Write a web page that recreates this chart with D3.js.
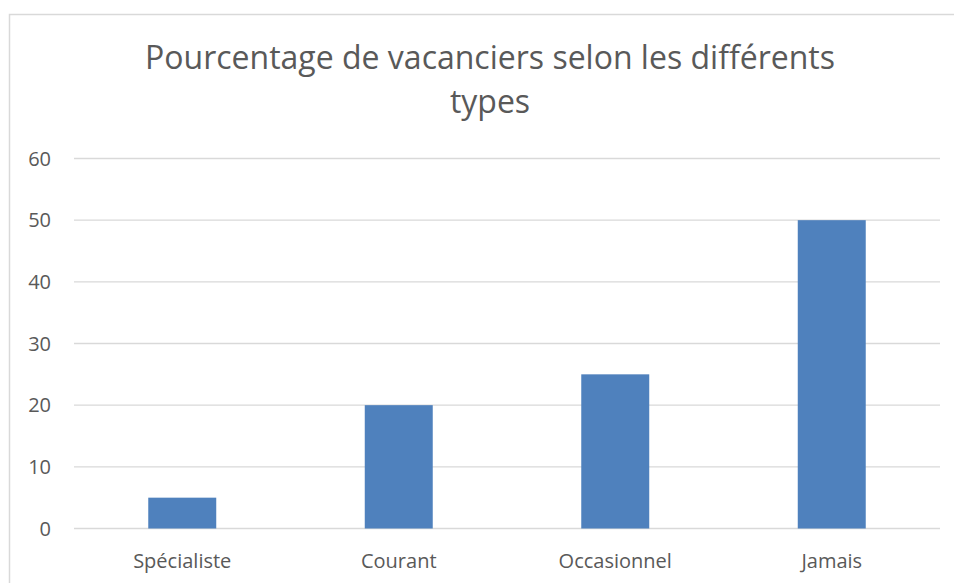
<!DOCTYPE html>
<html>
<head>
<meta charset="utf-8">
<script src="https://cdn.jsdelivr.net/npm/d3@7"></script>
<style>
  body { margin: 0; background: #fff; }
  text { font-family: 'Open Sans', sans-serif; fill: #595959; }
</style>
</head>
<body>
<div id="chart"></div>
<script>
// Data
const categories = ['Spécialiste', 'Courant', 'Occasionnel', 'Jamais'];
const values = [5, 20, 25, 50];
const yTicks = [0, 10, 20, 30, 40, 50, 60];
const titleLines = ['Pourcentage de vacanciers selon les différents', 'types'];

const svgW = 954;
const svgH = 583;
const margin = { top: 158.5, right: 14, bottom: 54.5, left: 74 };

const svg = d3.select('#chart').append('svg')
  .attr('width', svgW)
  .attr('height', svgH);

// Frame
svg.append('rect')
  .attr('x', 9.5)
  .attr('y', 14.5)
  .attr('width', svgW + 10)
  .attr('height', svgH + 10)
  .attr('fill', 'none')
  .attr('stroke', '#d9d9d9')
  .attr('stroke-width', 1.5);

const x = d3.scaleBand()
  .domain(categories)
  .range([margin.left, svgW - margin.right])
  .paddingInner(0.686)
  .paddingOuter(0.343);

const y = d3.scaleLinear()
  .domain([0, 60])
  .range([svgH - margin.bottom, margin.top]);

// Gridlines
const gG = svg.append('g').attr('class', 'grid');
yTicks.forEach((t) => {
  gG.append('line')
    .attr('x1', margin.left)
    .attr('x2', svgW - margin.right)
    .attr('y1', y(t))
    .attr('y2', y(t))
    .attr('stroke', '#d9d9d9')
    .attr('stroke-width', 1.3);
});

// Y labels
const gY = svg.append('g').attr('class', 'y-labels');
yTicks.forEach((t) => {
  gY.append('text')
    .attr('x', 51)
    .attr('y', y(t))
    .attr('dy', '0.36em')
    .attr('text-anchor', 'end')
    .style('font-size', '20px')
    .text(t);
});

// Bars
svg.append('g').attr('class', 'bars')
  .selectAll('rect')
  .data(categories)
  .join('rect')
  .attr('x', (d) => x(d))
  .attr('width', x.bandwidth())
  .attr('y', (d, i) => y(values[i]))
  .attr('height', (d, i) => y(0) - y(values[i]))
  .attr('fill', '#4f81bd');

// X labels
const gX = svg.append('g').attr('class', 'x-labels');
categories.forEach((c) => {
  gX.append('text')
    .attr('x', x(c) + x.bandwidth() / 2)
    .attr('y', 568)
    .attr('text-anchor', 'middle')
    .style('font-size', '20px')
    .text(c);
});

// Title
const gT = svg.append('g').attr('class', 'title');
titleLines.forEach((l, i) => {
  gT.append('text')
    .attr('x', 490)
    .attr('y', 69 + i * 44)
    .attr('text-anchor', 'middle')
    .style('font-size', '32px')
    .text(l);
});
</script>
</body>
</html>
